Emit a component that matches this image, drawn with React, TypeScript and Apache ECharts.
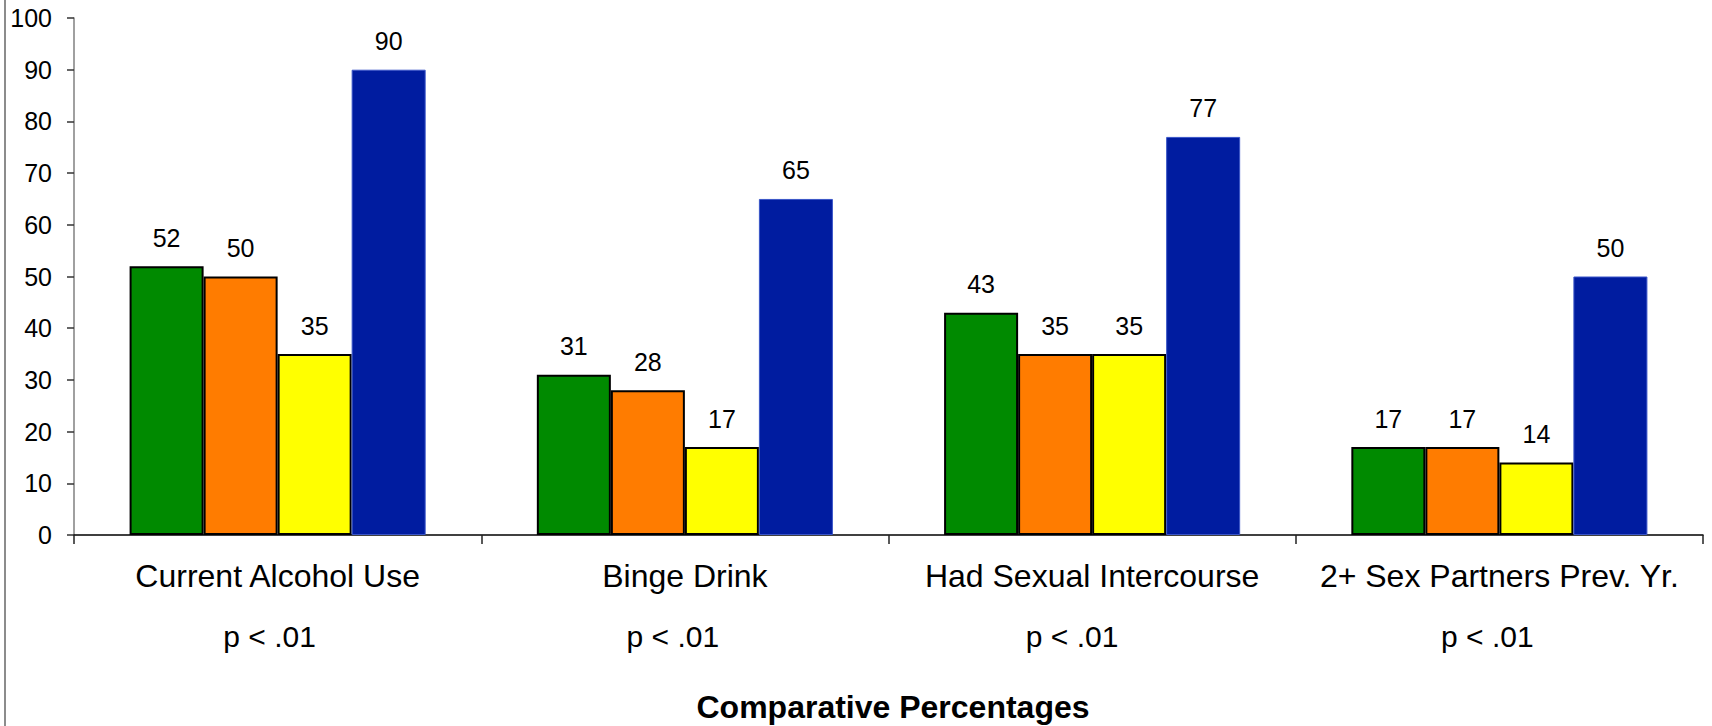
import React, { useEffect, useRef } from "react";
import * as echarts from "echarts";

const categories = [
  "Current Alcohol Use",
  "Binge Drink",
  "Had Sexual Intercourse",
  "2+ Sex Partners Prev. Yr.",
];
const pLabels = ["p < .01", "p < .01", "p < .01", "p < .01"];
const greenValues = [52, 31, 43, 17];
const orangeValues = [50, 28, 35, 17];
const yellowValues = [35, 17, 35, 14];
const blueValues = [90, 65, 77, 50];
const yTicks = { min: 0, max: 100, interval: 10 };

const FONT = "'Liberation Sans', Arial, Helvetica, sans-serif";

export default function App() {
  const ref = useRef<HTMLDivElement>(null);
  useEffect(() => {
    if (!ref.current) return;
    const chart = echarts.init(ref.current, null, { renderer: "svg" });
    const label = {
      show: true,
      position: "top",
      distance: 16,
      fontSize: 25,
      color: "#000",
      fontFamily: FONT,
    };
    const outlined = (color: string) => ({
      color,
      borderColor: "#000",
      borderWidth: 2,
    });
    const pShift = [16, 24, 40, 24];
    const pRich: Record<string, any> = {};
    pShift.forEach((s, i) => {
      pRich["p" + i] = {
        fontSize: 30,
        color: "#000",
        fontFamily: FONT,
        padding: [0, s, 0, 0],
      };
    });
    chart.setOption({
      animation: false,
      backgroundColor: "#fff",
      textStyle: { fontFamily: FONT },
      title: {
        text: "Comparative Percentages",
        left: 888,
        textAlign: "center",
        top: 686,
        textStyle: { fontSize: 32, fontWeight: "bold", color: "#000", fontFamily: FONT },
      },
      graphic: [
        {
          type: "line",
          shape: { x1: 5, y1: 0, x2: 5, y2: 726 },
          style: { stroke: "#8c8c8c", lineWidth: 2 },
        },
      ],
      grid: { left: 74, right: 9, top: 18, bottom: 191, containLabel: false },
      xAxis: [
        {
          type: "category",
          position: "bottom",
          data: categories,
          axisLine: { show: true, lineStyle: { color: "#000", width: 1.5 } },
          axisTick: { show: true, length: 9, lineStyle: { color: "#222", width: 1.5 } },
          axisLabel: { fontSize: 32, color: "#000", margin: 25, fontFamily: FONT, interval: 0 },
        },
        {
          type: "category",
          position: "bottom",
          data: pLabels,
          axisLine: { show: false },
          axisTick: { show: false },
          axisLabel: {
            fontSize: 30,
            color: "#000",
            margin: 86,
            fontFamily: FONT,
            interval: 0,
            formatter: (v: string, i: number) => `{p${i}|${v}}`,
            rich: pRich,
          },
        },
      ],
      yAxis: {
        type: "value",
        min: yTicks.min,
        max: yTicks.max,
        interval: yTicks.interval,
        axisLine: { show: true, lineStyle: { color: "#808080", width: 1.5 } },
        axisTick: { show: true, length: 7, lineStyle: { color: "#333", width: 1.5 } },
        splitLine: { show: false },
        axisLabel: { fontSize: 25, color: "#000", margin: 22, fontFamily: FONT },
      },
      series: [
        {
          name: "Green",
          type: "bar",
          data: greenValues,
          barGap: "0%",
          barCategoryGap: "27.3%",
          itemStyle: outlined("#008a00"),
          label,
        },
        {
          name: "Orange",
          type: "bar",
          data: orangeValues,
          barGap: "0%",
          barCategoryGap: "27.3%",
          itemStyle: outlined("#ff7c00"),
          label,
        },
        {
          name: "Yellow",
          type: "bar",
          data: yellowValues,
          barGap: "0%",
          barCategoryGap: "27.3%",
          itemStyle: outlined("#ffff00"),
          label,
        },
        {
          name: "Blue",
          type: "bar",
          data: blueValues,
          barGap: "0%",
          barCategoryGap: "27.3%",
          itemStyle: { color: "#001ca0", borderColor: "#3a55c8", borderWidth: 1 },
          label,
        },
      ],
    });
    return () => chart.dispose();
  }, []);
  return (
    <div
      ref={ref}
      style={{ position: "fixed", left: 0, top: 0, width: 1712, height: 726 }}
    />
  );
}
